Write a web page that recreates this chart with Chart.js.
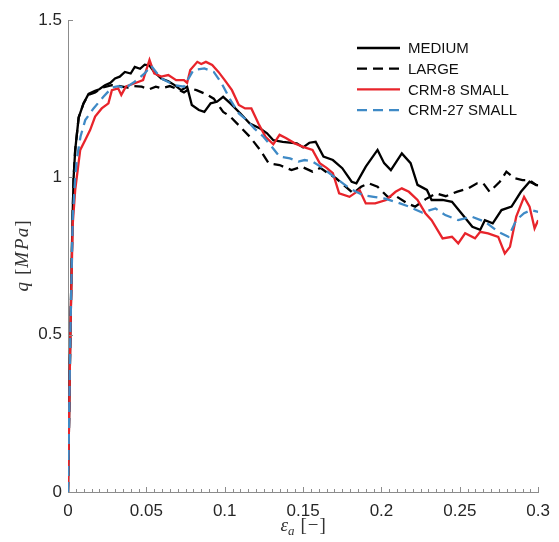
<!DOCTYPE html>
<html>
<head>
<meta charset="utf-8">
<script src="https://cdn.jsdelivr.net/npm/chart.js@4.4.1/dist/chart.umd.min.js"></script>
<style>
html,body{margin:0;padding:0;background:#fff;}
#wrap{width:559px;height:542px;}
</style>
</head>
<body>
<div id="wrap"><canvas id="c" width="559" height="542"></canvas></div>
<script>
// ---- data (strain, q in MPa) ----
const seriesNames = ['MEDIUM', 'LARGE', 'CRM-8 SMALL', 'CRM-27 SMALL'];
const xTickValues = [0, 0.05, 0.1, 0.15, 0.2, 0.25, 0.3];
const xTickLabels = ['0', '0.05', '0.1', '0.15', '0.2', '0.25', '0.3'];
const yTickValues = [0, 0.5, 1, 1.5];
const yTickLabels = ['0', '0.5', '1', '1.5'];

const medium = [[0,0],[0.0015,0.5],[0.0028,0.85],[0.0036,1.0],[0.0046,1.087],[0.0068,1.19],[0.0099,1.235],[0.0131,1.265],[0.0173,1.275],[0.02,1.28],[0.0236,1.293],[0.027,1.30],[0.030,1.314],[0.033,1.32],[0.0363,1.335],[0.04,1.33],[0.0426,1.351],[0.046,1.345],[0.0489,1.358],[0.052,1.355],[0.055,1.335],[0.0595,1.314],[0.064,1.305],[0.068,1.293],[0.0722,1.277],[0.076,1.288],[0.079,1.230],[0.0835,1.214],[0.087,1.208],[0.091,1.235],[0.095,1.240],[0.099,1.256],[0.1036,1.235],[0.110,1.203],[0.116,1.171],[0.1226,1.155],[0.127,1.140],[0.131,1.118],[0.137,1.113],[0.146,1.108],[0.150,1.095],[0.154,1.11],[0.158,1.113],[0.163,1.066],[0.169,1.055],[0.175,1.029],[0.181,0.986],[0.184,0.981],[0.190,1.034],[0.1975,1.087],[0.2017,1.045],[0.206,1.023],[0.213,1.076],[0.2186,1.045],[0.223,0.976],[0.229,0.960],[0.232,0.928],[0.239,0.928],[0.245,0.922],[0.251,0.886],[0.258,0.843],[0.263,0.833],[0.266,0.864],[0.271,0.854],[0.2766,0.896],[0.283,0.907],[0.289,0.954],[0.2945,0.986],[0.2987,0.976],[0.3,0.975]];

const large = [[0,0],[0.0015,0.5],[0.0028,0.85],[0.0036,1.0],[0.0046,1.087],[0.0068,1.19],[0.0099,1.235],[0.0131,1.262],[0.0173,1.27],[0.022,1.285],[0.028,1.293],[0.033,1.29],[0.038,1.285],[0.042,1.29],[0.047,1.288],[0.052,1.28],[0.056,1.288],[0.0595,1.283],[0.065,1.29],[0.07,1.28],[0.074,1.27],[0.078,1.283],[0.082,1.277],[0.0878,1.265],[0.093,1.25],[0.099,1.208],[0.1036,1.193],[0.111,1.155],[0.116,1.129],[0.1226,1.087],[0.128,1.045],[0.135,1.039],[0.1426,1.023],[0.149,1.034],[0.156,1.018],[0.161,1.03],[0.166,1.013],[0.171,0.997],[0.176,0.975],[0.182,0.949],[0.187,0.970],[0.192,0.981],[0.1975,0.970],[0.204,0.938],[0.210,0.938],[0.2165,0.917],[0.2215,0.907],[0.228,0.93],[0.235,0.949],[0.241,0.94],[0.248,0.954],[0.2555,0.965],[0.261,0.981],[0.265,0.981],[0.269,0.954],[0.2755,0.986],[0.2797,1.018],[0.285,0.997],[0.290,0.991],[0.2945,0.991],[0.2987,0.975],[0.3,0.975]];

const crm8 = [[0,0],[0.0015,0.5],[0.003,0.85],[0.0046,0.96],[0.0078,1.087],[0.011,1.119],[0.0141,1.15],[0.0173,1.193],[0.0215,1.219],[0.0258,1.235],[0.028,1.277],[0.032,1.283],[0.034,1.262],[0.037,1.289],[0.0426,1.299],[0.0479,1.309],[0.052,1.373],[0.055,1.33],[0.0595,1.32],[0.064,1.325],[0.069,1.309],[0.074,1.309],[0.076,1.30],[0.078,1.341],[0.0825,1.367],[0.085,1.36],[0.088,1.367],[0.092,1.357],[0.096,1.335],[0.1,1.309],[0.1046,1.277],[0.109,1.23],[0.113,1.219],[0.117,1.219],[0.1215,1.171],[0.126,1.129],[0.131,1.105],[0.135,1.135],[0.139,1.125],[0.1447,1.108],[0.150,1.097],[0.156,1.087],[0.1606,1.045],[0.165,1.03],[0.169,1.013],[0.173,0.949],[0.1796,0.938],[0.186,0.960],[0.190,0.917],[0.196,0.917],[0.203,0.928],[0.209,0.954],[0.213,0.965],[0.2175,0.954],[0.223,0.928],[0.228,0.886],[0.232,0.864],[0.239,0.806],[0.245,0.811],[0.249,0.790],[0.2534,0.822],[0.2597,0.806],[0.263,0.827],[0.268,0.822],[0.2745,0.811],[0.2787,0.758],[0.282,0.779],[0.286,0.875],[0.291,0.938],[0.2945,0.907],[0.2977,0.838],[0.3,0.864]];

const crm27 = [[0,0],[0.0015,0.5],[0.003,0.87],[0.0046,1.0],[0.0057,1.06],[0.008,1.13],[0.011,1.182],[0.0163,1.219],[0.0226,1.256],[0.028,1.285],[0.032,1.29],[0.0363,1.283],[0.0426,1.304],[0.0489,1.33],[0.053,1.355],[0.0595,1.314],[0.068,1.293],[0.074,1.288],[0.080,1.341],[0.087,1.346],[0.093,1.335],[0.098,1.299],[0.1036,1.246],[0.109,1.203],[0.114,1.182],[0.119,1.155],[0.1247,1.129],[0.130,1.097],[0.135,1.066],[0.1416,1.060],[0.147,1.050],[0.151,1.055],[0.156,1.050],[0.1627,1.029],[0.171,0.997],[0.1796,0.965],[0.188,0.944],[0.195,0.938],[0.2017,0.933],[0.209,0.922],[0.2175,0.907],[0.226,0.888],[0.2345,0.901],[0.2407,0.880],[0.249,0.864],[0.2576,0.875],[0.266,0.859],[0.2745,0.827],[0.281,0.811],[0.286,0.864],[0.291,0.886],[0.2956,0.896],[0.3,0.89]];

// ---- styling ----
const toXY = arr => arr.map(p => ({x: p[0], y: p[1]}));
const styles = [
  {color: '#000000', dash: [], order: 3},
  {color: '#000000', dash: [10, 6], order: 2},
  {color: '#e8242b', dash: [], order: 1},
  {color: '#3f8ac6', dash: [10, 6], order: 0}
];
const allSeries = [medium, large, crm8, crm27];

const datasets = allSeries.map((s, i) => ({
  label: seriesNames[i],
  data: toXY(s),
  borderColor: styles[i].color,
  borderDash: styles[i].dash,
  borderWidth: 2.3,
  pointRadius: 0,
  fill: false,
  tension: 0,
  order: styles[i].order
}));

const AXIS_COLOR = '#8c8c8c';
const TEXT_COLOR = '#262626';

const customDraw = {
  id: 'customDraw',
  afterDraw(chart) {
    const ctx = chart.ctx;
    const xs = chart.scales.x, ys = chart.scales.y;
    const ca = chart.chartArea;
    ctx.save();
    // inward ticks
    ctx.strokeStyle = AXIS_COLOR;
    ctx.lineWidth = 1;
    ctx.beginPath();
    for (let i = 1; i <= 60; i++) {
      const px = Math.round(xs.getPixelForValue(i * 0.005)) + 0.5;
      const len = (i % 10 === 0) ? 5 : 3;
      ctx.moveTo(px, ca.bottom);
      ctx.lineTo(px, ca.bottom - len);
    }
    yTickValues.forEach(v => {
      const py = Math.round(ys.getPixelForValue(v)) + 0.5;
      ctx.moveTo(ca.left, py);
      ctx.lineTo(ca.left + 5, py);
    });
    ctx.stroke();

    // legend
    const lx0 = 357, lx1 = 400, tx = 408, ly0 = 48, dy = 20.7;
    chart.data.datasets.forEach((d, i) => {
      const y = ly0 + i * dy;
      ctx.beginPath();
      ctx.strokeStyle = d.borderColor;
      ctx.lineWidth = 2.3;
      ctx.setLineDash(d.borderDash || []);
      ctx.moveTo(lx0, y);
      ctx.lineTo(lx1, y);
      ctx.stroke();
      ctx.setLineDash([]);
      ctx.fillStyle = '#111';
      ctx.font = '15px "Liberation Sans", Arial, sans-serif';
      ctx.textBaseline = 'middle';
      ctx.textAlign = 'left';
      ctx.fillText(d.label, tx, y + 1);
    });

    // x-axis title: ε_a [−]
    const cx = (ca.left + ca.right) / 2;
    const by = 531;
    ctx.fillStyle = '#333';
    ctx.textBaseline = 'alphabetic';
    const fIt = 'italic 19px "Liberation Serif", serif';
    const fItS = 'italic 13px "Liberation Serif", serif';
    const fUp = '19px "Liberation Serif", serif';
    const partsX = [
      {t: 'ε', f: fIt, dy: 0, gap: 0},
      {t: 'a', f: fItS, dy: 4, gap: 6},
      {t: '[', f: fUp, dy: 0, gap: 1},
      {t: '−', f: fUp, dy: 0, gap: 1},
      {t: ']', f: fUp, dy: 0, gap: 0}
    ];
    let total = 0;
    partsX.forEach(p => { ctx.font = p.f; p.w = ctx.measureText(p.t).width; total += p.w + p.gap; });
    let x = cx - total / 2;
    partsX.forEach(p => { ctx.font = p.f; ctx.fillText(p.t, x, by + p.dy); x += p.w + p.gap; });

    // y-axis title: q [MPa]
    const cy = (ca.top + ca.bottom) / 2;
    ctx.translate(28, cy);
    ctx.rotate(-Math.PI / 2);
    const partsY = [
      {t: 'q', f: fIt, gap: 7},
      {t: '[', f: fUp, gap: 1},
      {t: 'M', f: fIt, gap: 2},
      {t: 'P', f: fIt, gap: 1},
      {t: 'a', f: fIt, gap: 1},
      {t: ']', f: fUp, gap: 0}
    ];
    total = 0;
    partsY.forEach(p => { ctx.font = p.f; p.w = ctx.measureText(p.t).width; total += p.w + p.gap; });
    x = -total / 2;
    partsY.forEach(p => { ctx.font = p.f; ctx.fillText(p.t, x, 0); x += p.w + p.gap; });
    ctx.restore();
  }
};

new Chart(document.getElementById('c'), {
  type: 'line',
  data: {datasets},
  options: {
    responsive: false,
    animation: false,
    layout: {padding: {left: 0, right: 17, top: 20, bottom: 0}},
    plugins: {legend: {display: false}, tooltip: {enabled: false}},
    scales: {
      x: {
        type: 'linear', min: 0, max: 0.3,
        afterBuildTicks: s => { s.ticks = xTickValues.map(v => ({value: v})); },
        afterFit: s => { s.height = 50; },
        grid: {display: false, drawTicks: false},
        border: {display: true, color: AXIS_COLOR, width: 1},
        ticks: {
          padding: 9, color: TEXT_COLOR, maxRotation: 0,
          font: {size: 17, family: '"Liberation Sans", Arial, sans-serif'},
          callback: v => { const i = xTickValues.indexOf(v); return i >= 0 ? xTickLabels[i] : ''; }
        }
      },
      y: {
        type: 'linear', min: 0, max: 1.5,
        afterBuildTicks: s => { s.ticks = yTickValues.map(v => ({value: v})); },
        afterFit: s => { s.width = 68; },
        grid: {display: false, drawTicks: false},
        border: {display: true, color: AXIS_COLOR, width: 1},
        ticks: {
          padding: 6, color: TEXT_COLOR,
          font: {size: 17, family: '"Liberation Sans", Arial, sans-serif'},
          callback: v => { const i = yTickValues.indexOf(v); return i >= 0 ? yTickLabels[i] : ''; }
        }
      }
    }
  },
  plugins: [customDraw]
});
</script>
</body>
</html>
